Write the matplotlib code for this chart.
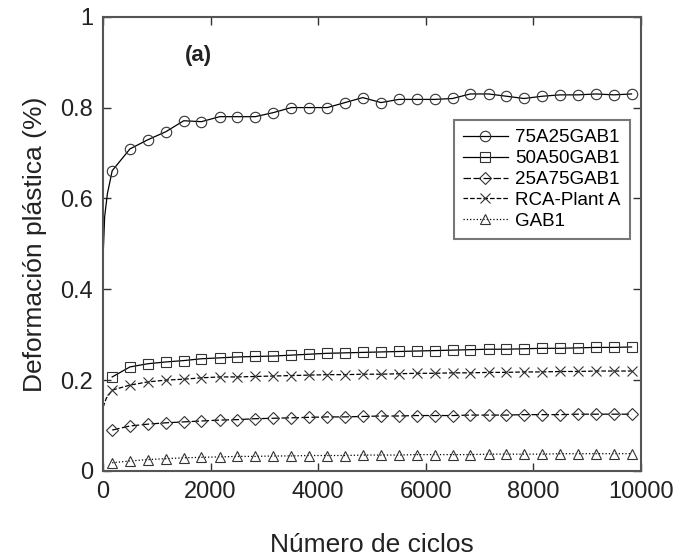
import matplotlib.pyplot as plt

plt.rcParams['font.family'] = ['Liberation Sans', 'DejaVu Sans']

# Data (cycles at the marker positions)
cycles = [170, 500, 830, 1170, 1500, 1830, 2170, 2500, 2830, 3170,
          3500, 3830, 4170, 4500, 4830, 5170, 5500, 5830, 6170, 6500,
          6830, 7170, 7500, 7830, 8170, 8500, 8830, 9170, 9500, 9830]

mix_75a25 = [0.661, 0.709, 0.729, 0.747, 0.771, 0.769, 0.780, 0.780, 0.780, 0.789,
             0.800, 0.800, 0.800, 0.811, 0.822, 0.811, 0.818, 0.818, 0.818, 0.820,
             0.830, 0.830, 0.825, 0.820, 0.825, 0.828, 0.828, 0.830, 0.828, 0.830]
mix_50a50 = [0.207, 0.229, 0.236, 0.240, 0.243, 0.247, 0.249, 0.251, 0.252, 0.253,
             0.255, 0.257, 0.259, 0.260, 0.261, 0.262, 0.263, 0.264, 0.265, 0.266,
             0.267, 0.268, 0.268, 0.269, 0.270, 0.270, 0.271, 0.272, 0.272, 0.273]
mix_25a75 = [0.090, 0.099, 0.103, 0.106, 0.108, 0.110, 0.112, 0.113, 0.115, 0.116,
             0.117, 0.118, 0.119, 0.119, 0.120, 0.121, 0.121, 0.122, 0.122, 0.122,
             0.123, 0.123, 0.123, 0.124, 0.124, 0.124, 0.125, 0.125, 0.125, 0.125]
rca_plant = [0.178, 0.189, 0.196, 0.200, 0.202, 0.205, 0.207, 0.207, 0.208, 0.209,
             0.210, 0.211, 0.212, 0.212, 0.213, 0.213, 0.214, 0.215, 0.215, 0.216,
             0.216, 0.217, 0.217, 0.218, 0.218, 0.219, 0.219, 0.220, 0.220, 0.220]
gab1 = [0.018, 0.022, 0.025, 0.027, 0.029, 0.030, 0.031, 0.032, 0.032, 0.033,
        0.033, 0.034, 0.034, 0.034, 0.035, 0.035, 0.035, 0.036, 0.036, 0.036,
        0.036, 0.037, 0.037, 0.037, 0.037, 0.038, 0.038, 0.038, 0.038, 0.038]

# early part of the curves (before the first marker)
start_75a25_x = [0, 30, 80]
start_75a25_y = [0.47, 0.56, 0.61]
start_rca_x = [0, 60]
start_rca_y = [0.14, 0.16]

labels = ['75A25GAB1', '50A50GAB1', '25A75GAB1', 'RCA-Plant A', 'GAB1']

fig, ax = plt.subplots(figsize=(6.78, 5.58), dpi=100)
fig.subplots_adjust(left=0.152, right=0.945, top=0.970, bottom=0.156)

mk = dict(markerfacecolor='none', markeredgecolor='#333333', markeredgewidth=0.8,
          markersize=7.5, color='black', linewidth=0.9)

ax.plot(start_75a25_x + cycles, start_75a25_y + mix_75a25, '-', marker='o',
        markevery=slice(len(start_75a25_x), None), label=labels[0], **mk)
ax.plot(cycles, mix_50a50, '-', marker='s', label=labels[1], **mk)
ax.plot(cycles, mix_25a75, linestyle=(0, (6, 2)), marker='D', label=labels[2],
        **{**mk, 'markersize': 6.5})
ax.plot(start_rca_x + cycles, start_rca_y + rca_plant, '--', marker='x',
        markevery=slice(len(start_rca_x), None), label=labels[3], **mk)
ax.plot(cycles, gab1, ':', marker='^', label=labels[4], **mk)

ax.set_xlim(0, 10000)
ax.set_ylim(0, 1)
ax.set_xticks([0, 2000, 4000, 6000, 8000, 10000])
ax.set_yticks([0, 0.2, 0.4, 0.6, 0.8, 1])
ax.set_yticklabels(['0', '0.2', '0.4', '0.6', '0.8', '1'])
ax.tick_params(direction='in', length=6, width=1, top=True, right=True,
               labelsize=17, colors='#333333', labelcolor='#222222', pad=7)
for s in ax.spines.values():
    s.set_color('#555555')
    s.set_linewidth(1.5)

ax.set_xlabel('Número de ciclos', fontsize=19, color='#222222', labelpad=22)
ax.set_ylabel('Deformación plástica (%)', fontsize=19, color='#222222', labelpad=10)

ax.text(0.153, 0.914, '(a)', transform=ax.transAxes, fontsize=16,
        fontweight='bold', color='#222222', va='center')

leg = ax.legend(loc='upper left', bbox_to_anchor=(0.652, 0.773), fontsize=13.5,
                frameon=True, fancybox=False, shadow=False, edgecolor='#555555',
                handlelength=2.4, borderpad=0.5, labelspacing=0.2,
                handletextpad=0.4, borderaxespad=0)
leg.get_frame().set_linewidth(1.5)

fig.savefig('out.png', dpi=100)
